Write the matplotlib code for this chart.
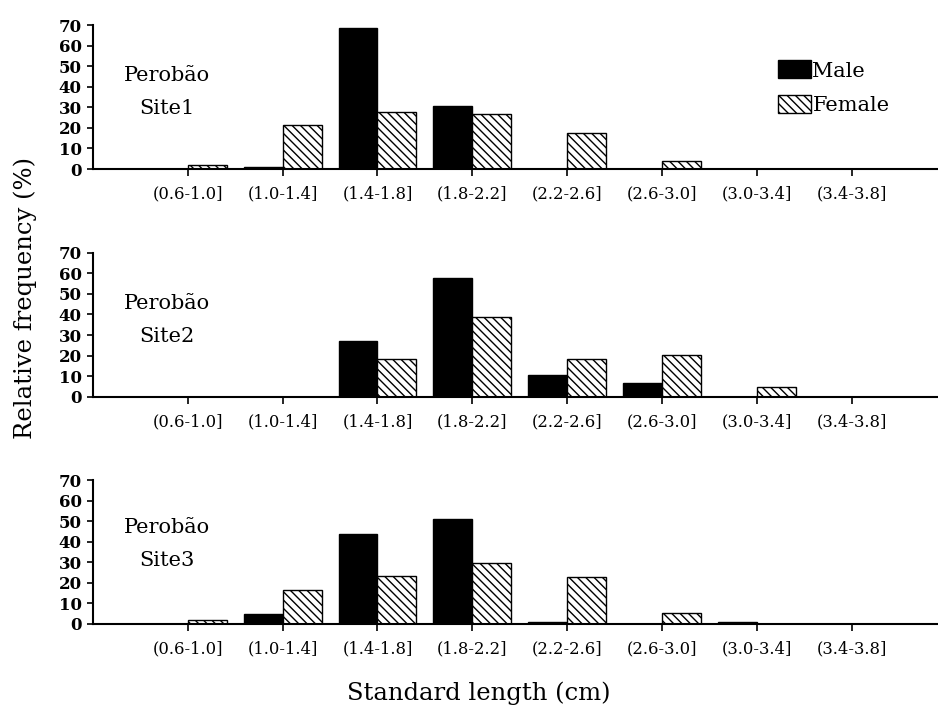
import matplotlib.pyplot as plt
import numpy as np

# size classes (cm)
classes = ["(0.6-1.0]", "(1.0-1.4]", "(1.4-1.8]", "(1.8-2.2]",
           "(2.2-2.6]", "(2.6-3.0]", "(3.0-3.4]", "(3.4-3.8]"]

# relative frequency (%) per site
male_site1 = [0, 1, 68.4, 30.6, 0, 0, 0, 0]
female_site1 = [2, 21.2, 27.7, 26.7, 17.6, 3.7, 0, 0]

male_site2 = [0, 0, 27.2, 57.6, 10.4, 6.7, 0, 0]
female_site2 = [0, 0, 18.5, 38.9, 18.5, 20.5, 4.7, 0]

male_site3 = [0, 4.7, 43.9, 51.2, 1.1, 0, 1, 0]
female_site3 = [2, 16.6, 23.2, 29.7, 23, 5.5, 0, 0]

sites = ["Site1", "Site2", "Site3"]
males = [male_site1, male_site2, male_site3]
females = [female_site1, female_site2, female_site3]

plt.rcParams["font.family"] = "DejaVu Serif"
plt.rcParams["hatch.linewidth"] = 1.0

fig = plt.figure(figsize=(9.38, 7.09), dpi=100)
bottoms = [0.7616, 0.4405, 0.1199]
x = np.arange(len(classes))
w = 0.41

for i in range(3):
    ax = fig.add_axes([0.0991, bottoms[i], 0.905, 0.203])
    ax.bar(x - w / 2, males[i], w, color="black", edgecolor="black",
           linewidth=1, label="Male")
    ax.bar(x + w / 2, females[i], w, color="white", edgecolor="black",
           linewidth=1, hatch="\\\\\\\\", label="Female")
    ax.set_xlim(-1, 7.95)
    ax.set_ylim(0, 70)
    ax.set_yticks(range(0, 71, 10))
    ax.set_xticks(x)
    ax.set_xticklabels(classes, fontsize=11.8)
    for lab in ax.get_yticklabels():
        lab.set_fontsize(12)
        lab.set_fontweight("bold")
    ax.tick_params(axis="x", direction="out", length=5, width=1.2, pad=7)
    ax.tick_params(axis="y", direction="out", length=4, width=1.2, pad=4)
    ax.spines["top"].set_visible(False)
    ax.spines["right"].set_visible(False)
    ax.spines["left"].set_linewidth(1.5)
    ax.spines["bottom"].set_linewidth(1.5)
    ty = 47 if i == 2 else 45.5
    ax.text(-0.22, ty, "Perobão", ha="center", va="center", fontsize=15)
    ax.text(-0.22, ty - 16, sites[i], ha="center", va="center", fontsize=15)
    if i == 0:
        ax.legend(loc="upper left", bbox_to_anchor=(0.807, 0.755), frameon=False,
                  fontsize=15, handlelength=1.6, handleheight=0.95,
                  handletextpad=0.05, labelspacing=0.7, borderpad=0,
                  borderaxespad=0)

fig.text(0.027, 0.58, "Relative frequency (%)", rotation=90,
         ha="center", va="center", fontsize=17.5)
fig.text(0.51, 0.013, "Standard length (cm)", ha="center", va="baseline",
         fontsize=17.5)

plt.savefig("out.png", dpi=100)
